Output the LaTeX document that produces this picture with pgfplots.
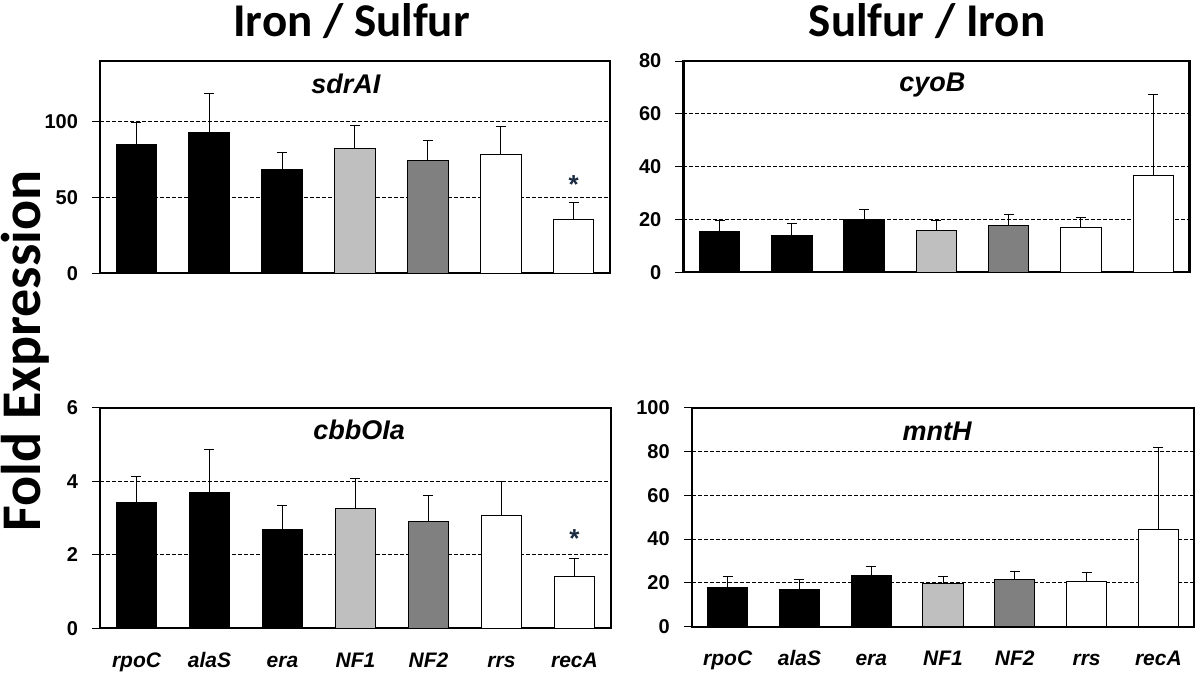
\documentclass[border=0pt]{standalone}
\usepackage{fontspec}
\setmainfont{Liberation Sans}
\newfontfamily\calibri{Carlito}
\usepackage{pgfplots}
\pgfplotsset{compat=1.18}
\definecolor{lightbar}{HTML}{BFBFBF}
\definecolor{darkbar}{HTML}{808080}
\definecolor{star}{HTML}{1A2A40}

\pgfplotsset{
  panel/.style={
    scale only axis,
    anchor=south west,
    xmin=-0.5, xmax=6.5,
    ymin=0,
    axis line style={line width=1.1pt},
    xtick={0,...,6},
    xtick style={draw=none},
    ytick pos=left,
    tick align=outside,
    major tick length=4pt,
    ytick style={line width=0.5pt, black},
    yticklabel style={font=\bfseries\fontsize{10}{11}\selectfont, xshift=-3.5pt},
    xticklabel style={font=\bfseries\itshape\fontsize{10.5}{11}\selectfont,
      text height=1.6ex, text depth=0.4ex, yshift=-3.5pt},
    /pgf/number format/assume math mode=true,
    ymajorgrids,
    grid style={black, line width=0.45pt, dash pattern=on 2pt off 1pt},
    ybar, bar width=0.56,
    every axis plot/.append style={
      bar shift=0pt, draw=black, line width=0.5pt,
      /pgfplots/error bars/y dir=plus,
      /pgfplots/error bars/y explicit,
      /pgfplots/error bars/error bar style={black, line width=0.5pt},
      /pgfplots/error bars/error mark options={black, line width=0.5pt, mark size=2.5pt, rotate=90},
    },
  },
}
\tikzset{gene/.style={font=\bfseries\itshape\fontsize{13.5}{14}\selectfont, anchor=base}}

\begin{document}
\begin{tikzpicture}
\useasboundingbox (0,0) rectangle (600pt,339.5pt);

\node[font=\calibri\bfseries\fontsize{23.5}{25}\selectfont, anchor=base] at (175.8pt,321.2pt) {Iron / Sulfur};
\node[font=\calibri\bfseries\fontsize{23.5}{25}\selectfont, anchor=base] at (463.5pt,321.2pt) {Sulfur / Iron};
\node[font=\calibri\bfseries\fontsize{28}{30}\selectfont, rotate=90] at (12.8pt,164pt) {Fold Expression};

% sdrAI
\begin{axis}[panel, at={(50pt,202.85pt)}, width=255pt, height=106.3pt,
  ymax=140, ytick={0,50,100}, xticklabels={}]
\addplot[fill=black] coordinates {(0,85) +- (0,14) (1,93) +- (0,25.5) (2,68.3) +- (0,11.5)};
\addplot[fill=lightbar] coordinates {(3,82.5) +- (0,15)};
\addplot[fill=darkbar] coordinates {(4,74) +- (0,13.5)};
\addplot[fill=white] coordinates {(5,78.2) +- (0,18.7) (6,35.4) +- (0,11.2)};
\node[gene] at (rel axis cs:0.482,0.847) {sdrAI};
\node[font=\bfseries\fontsize{13}{13}\selectfont, text=star] at (axis cs:6,58.5) {*};
\end{axis}

% cyoB
\begin{axis}[panel, at={(341.7pt,203.35pt)}, width=253pt, height=105.65pt,
  ymax=80, ytick={0,20,...,80}, xticklabels={}]
\addplot[fill=black] coordinates {(0,15.5) +- (0,4.1) (1,14.1) +- (0,4.3) (2,19.9) +- (0,3.9)};
\addplot[fill=lightbar] coordinates {(3,15.8) +- (0,3.9)};
\addplot[fill=darkbar] coordinates {(4,17.8) +- (0,4)};
\addplot[fill=white] coordinates {(5,16.9) +- (0,3.9) (6,36.6) +- (0,30.9)};
\node[gene] at (rel axis cs:0.492,0.855) {cyoB};
\end{axis}

% cbbOIa
\begin{axis}[panel, at={(50pt,25.35pt)}, width=255.5pt, height=110.3pt,
  ymax=6, ytick={0,2,4,6},
  xticklabels={rpoC,alaS,era,NF1,NF2,rrs,recA}]
\addplot[fill=black] coordinates {(0,3.41) +- (0,0.73) (1,3.68) +- (0,1.18) (2,2.69) +- (0,0.64)};
\addplot[fill=lightbar] coordinates {(3,3.25) +- (0,0.82)};
\addplot[fill=darkbar] coordinates {(4,2.90) +- (0,0.71)};
\addplot[fill=white] coordinates {(5,3.07) +- (0,0.92) (6,1.40) +- (0,0.50)};
\node[gene] at (rel axis cs:0.507,0.857) {cbbOIa};
\node[font=\bfseries\fontsize{13}{13}\selectfont, text=star] at (axis cs:6,2.45) {*};
\end{axis}

% mntH
\begin{axis}[panel, at={(345.9pt,26.15pt)}, width=251.25pt, height=109.5pt,
  ymax=100, ytick={0,20,...,100},
  xticklabels={rpoC,alaS,era,NF1,NF2,rrs,recA}]
\addplot[fill=black] coordinates {(0,18.1) +- (0,4.7) (1,17.1) +- (0,4.5) (2,23.6) +- (0,4.0)};
\addplot[fill=lightbar] coordinates {(3,19.5) +- (0,3.3)};
\addplot[fill=darkbar] coordinates {(4,21.6) +- (0,3.8)};
\addplot[fill=white] coordinates {(5,20.5) +- (0,4.2) (6,44.3) +- (0,37.4)};
\node[gene] at (rel axis cs:0.488,0.848) {mntH};
\end{axis}
\end{tikzpicture}
\end{document}
